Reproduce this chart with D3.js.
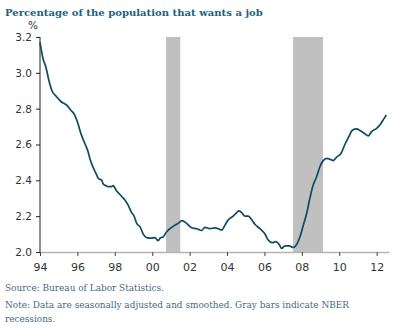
<!DOCTYPE html>
<html>
<head>
<meta charset="utf-8">
<script src="https://cdn.jsdelivr.net/npm/d3@7/dist/d3.min.js"></script>
<style>
  html, body { margin: 0; padding: 0; background: #fff; }
  svg { display: block; }
</style>
</head>
<body>
<svg id="chart" width="400" height="328"></svg>
<script>
// Share of the population that wants a job (%), smoothed, by fractional year
const years = [
  1994.00, 1994.16, 1994.32, 1994.47, 1994.64, 1994.86, 1995.12, 1995.43, 1995.66, 1995.83,
  1996.02, 1996.19, 1996.42, 1996.57, 1996.67, 1996.85, 1997.03, 1997.12, 1997.30, 1997.38,
  1997.53, 1997.65, 1997.83, 1997.90, 1998.10, 1998.37, 1998.54, 1998.72, 1998.90, 1999.03,
  1999.17, 1999.35, 1999.52, 1999.70, 1999.97, 2000.15, 2000.32, 2000.42, 2000.59, 2000.77,
  2000.95, 2001.22, 2001.39, 2001.59, 2001.84, 2002.11, 2002.38, 2002.64, 2002.82, 2003.09,
  2003.36, 2003.53, 2003.71, 2003.89, 2004.07, 2004.33, 2004.52, 2004.64, 2004.78, 2004.96,
  2005.14, 2005.32, 2005.49, 2005.76, 2006.03, 2006.20, 2006.42, 2006.60, 2006.78, 2006.92,
  2007.10, 2007.33, 2007.54, 2007.74, 2007.90, 2008.08, 2008.26, 2008.43, 2008.61, 2008.79,
  2008.97, 2009.14, 2009.33, 2009.50, 2009.68, 2009.86, 2010.09, 2010.30, 2010.52, 2010.70,
  2010.93, 2011.11, 2011.37, 2011.55, 2011.73, 2012.00, 2012.18, 2012.41, 2012.52
];
const wantsJob = [
  3.17, 3.08, 3.03, 2.96, 2.90, 2.87, 2.84, 2.82, 2.79, 2.77,
  2.72, 2.66, 2.60, 2.56, 2.52, 2.47, 2.43, 2.41, 2.40, 2.38,
  2.37, 2.365, 2.365, 2.37, 2.34, 2.31, 2.29, 2.26, 2.22, 2.20,
  2.16, 2.14, 2.10, 2.08, 2.077, 2.08, 2.063, 2.077, 2.085, 2.113,
  2.13, 2.15, 2.16, 2.175, 2.16, 2.135, 2.13, 2.12, 2.138, 2.13,
  2.135, 2.13, 2.122, 2.15, 2.18, 2.20, 2.22, 2.23, 2.22, 2.20,
  2.20, 2.18, 2.155, 2.13, 2.10, 2.067, 2.052, 2.058, 2.043, 2.02,
  2.034, 2.034, 2.025, 2.045, 2.085, 2.15, 2.216, 2.30, 2.375, 2.42,
  2.477, 2.51, 2.523, 2.518, 2.51, 2.53, 2.55, 2.60, 2.645, 2.68,
  2.687, 2.678, 2.66, 2.648, 2.672, 2.69, 2.71, 2.747, 2.765
];

// NBER recession spans
const recessionStart = [2000.74, 2007.53];
const recessionEnd   = [2001.50, 2009.13];

const xTickYears = [1994, 1996, 1998, 2000, 2002, 2004, 2006, 2008, 2010, 2012];
const xTickLabels = ["94", "96", "98", "00", "02", "04", "06", "08", "10", "12"];
const yTickValues = [2.0, 2.2, 2.4, 2.6, 2.8, 3.0, 3.2];

const titleText = "Percentage of the population that wants a job";
const sourceText = "Source: Bureau of Labor Statistics.";
const noteLines = [
  "Note: Data are seasonally adjusted and smoothed. Gray bars indicate NBER",
  "recessions."
];

const svg = d3.select("#chart");
const plot = { left: 40, right: 389, top: 37, bottom: 252 };

const x = d3.scaleLinear().domain([1994, 2012.66]).range([plot.left, plot.right]);
const y = d3.scaleLinear().domain([2.0, 3.2]).range([plot.bottom, plot.top]);

const serif = "'DejaVu Serif', 'Liberation Serif', serif";
const sans = "'DejaVu Sans', Verdana, sans-serif";

// Fit a text element to a target width by adjusting its font size
function fitWidth(sel, target) {
  const node = sel.node();
  const size = parseFloat(sel.attr("font-size"));
  const w = node.getComputedTextLength();
  sel.attr("font-size", (size * target / w).toFixed(2));
}

// Title
svg.append("text")
  .attr("x", 5).attr("y", 16)
  .attr("font-family", serif)
  .attr("font-weight", "bold")
  .attr("font-size", 12)
  .attr("fill", "#1d6080")
  .text(titleText)
  .call(fitWidth, 258);

// Recession bars
const recessions = recessionStart.map((s, i) => ({ s, e: recessionEnd[i] }));
svg.append("g").selectAll("rect")
  .data(recessions)
  .join("rect")
  .attr("x", d => x(d.s))
  .attr("width", d => x(d.e) - x(d.s))
  .attr("y", y(3.2))
  .attr("height", y(2.0) - y(3.2))
  .attr("fill", "#c0c0c0");

// Y axis
const yAxis = svg.append("g")
  .attr("transform", `translate(${plot.left},0)`)
  .call(d3.axisLeft(y).tickValues(yTickValues).tickFormat(d3.format(".1f")).tickSize(4).tickPadding(4));
yAxis.select(".domain").attr("stroke", "#222").attr("d", `M0,${y(2.0)}V${y(3.2)}`);
yAxis.selectAll(".tick line").attr("stroke", "#222");
yAxis.selectAll(".tick text")
  .attr("font-family", sans).attr("font-size", 10.5).attr("fill", "#333");

svg.append("text")
  .attr("x", 33).attr("y", 29)
  .attr("text-anchor", "middle")
  .attr("font-family", sans).attr("font-size", 10.5).attr("fill", "#333")
  .text("%");

// X axis
const xAxis = svg.append("g")
  .attr("transform", `translate(0,${plot.bottom})`)
  .call(d3.axisBottom(x).tickValues(xTickYears).tickFormat((d, i) => xTickLabels[i]).tickSize(4).tickSizeOuter(0).tickPadding(7));
xAxis.select(".domain").attr("stroke", "#b5b5b5").attr("stroke-width", 1.5);
xAxis.selectAll(".tick line").attr("stroke", "#444");
xAxis.selectAll(".tick text")
  .attr("font-family", sans).attr("font-size", 11).attr("fill", "#333");

// Data line
const series = years.map((yr, i) => ({ yr, v: wantsJob[i] }));
svg.append("path")
  .datum(series)
  .attr("fill", "none")
  .attr("stroke", "#0c4b62")
  .attr("stroke-width", 1.7)
  .attr("stroke-linejoin", "round")
  .attr("d", d3.line().x(d => x(d.yr)).y(d => y(d.v)).curve(d3.curveMonotoneX));

// Footer
svg.append("text")
  .attr("x", 5).attr("y", 291)
  .attr("font-family", serif).attr("font-size", 10).attr("fill", "#3f6a7e")
  .text(sourceText)
  .call(fitWidth, 159);

const noteFirst = svg.append("text")
  .attr("x", 5).attr("y", 308)
  .attr("font-family", serif).attr("font-size", 10).attr("fill", "#3f6a7e")
  .text(noteLines[0])
  .call(fitWidth, 344);

svg.append("text")
  .attr("x", 5).attr("y", 322)
  .attr("font-family", serif).attr("font-size", noteFirst.attr("font-size")).attr("fill", "#3f6a7e")
  .text(noteLines[1]);
</script>
</body>
</html>
